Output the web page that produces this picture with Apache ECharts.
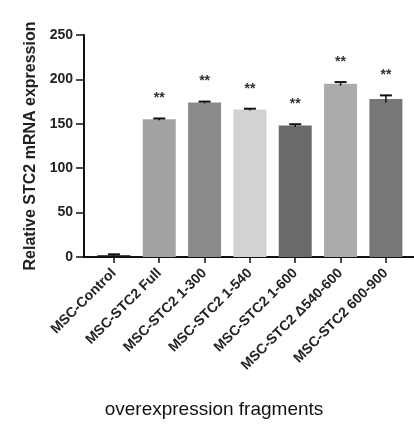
<!DOCTYPE html>
<html>
<head>
<meta charset="utf-8">
<script src="https://cdn.jsdelivr.net/npm/echarts@6/dist/echarts.min.js"></script>
<style>
  html, body { margin: 0; padding: 0; background: #fff; }
  #chart { width: 414px; height: 424px; }
</style>
</head>
<body>
<div id="chart"></div>
<script>
var categories = ['MSC-Control', 'MSC-STC2 Full', 'MSC-STC2 1-300', 'MSC-STC2 1-540', 'MSC-STC2 1-600', 'MSC-STC2 \u0394540-600', 'MSC-STC2 600-900'];
var values = [2, 155, 174, 166, 148, 195, 178];
var errors = [1, 1, 1, 1, 1.5, 2, 4];
var marks = ['', '**', '**', '**', '**', '**', '**'];
var barColors = ['#111111', '#a3a3a3', '#8b8b8b', '#d2d2d2', '#6b6b6b', '#ababab', '#777777'];
var yTicks = [0, 50, 100, 150, 200, 250];

var chart = echarts.init(document.getElementById('chart'));
var font = 'Liberation Sans, Arial, sans-serif';

var barData = values.map(function (v, i) {
  return {
    value: [i, v],
    itemStyle: { color: barColors[i] }
  };
});

var errData = values.map(function (v, i) {
  return [i, v, errors[i]];
});

option = {
  animation: false,
  grid: {
    left: 84,
    right: 0,
    top: 35,
    bottom: 167
  },
  xAxis: {
    type: 'value',
    min: -0.66,
    max: 6.62,
    name: 'overexpression fragments',
    nameLocation: 'middle',
    nameGap: 143,
    nameTextStyle: {
      fontFamily: font,
      fontSize: 19,
      color: '#111',
      padding: [0, 70, 0, 0]
    },
    splitLine: { show: false },
    axisLine: { show: true, lineStyle: { color: '#111', width: 2 } },
    axisTick: {
      show: true,
      customValues: [0, 1, 2, 3, 4, 5, 6],
      length: 6,
      lineStyle: { color: '#111', width: 1.5 }
    },
    axisLabel: {
      customValues: [0, 1, 2, 3, 4, 5, 6],
      rotate: 45,
      margin: 14,
      fontFamily: font,
      fontSize: 14,
      fontWeight: 'bold',
      color: '#222',
      formatter: function (v) {
        return categories[Math.round(v)];
      }
    }
  },
  yAxis: {
    type: 'value',
    min: 0,
    max: yTicks[yTicks.length - 1],
    interval: 50,
    name: 'Relative STC2 mRNA expression',
    nameLocation: 'middle',
    nameGap: 38,
    nameTextStyle: {
      fontFamily: font,
      fontSize: 16,
      fontWeight: 'bold',
      color: '#222'
    },
    splitLine: { show: false },
    axisLine: { show: true, onZero: false, lineStyle: { color: '#111', width: 2 } },
    axisTick: { show: true, length: 8, lineStyle: { color: '#111', width: 1.5 } },
    axisLabel: {
      fontFamily: font,
      fontSize: 14,
      fontWeight: 'bold',
      color: '#222',
      margin: 11
    }
  },
  series: [
    {
      type: 'bar',
      barWidth: 33,
      data: barData,
      z: 2
    },
    {
      // error bars + significance marks
      type: 'custom',
      z: 3,
      renderItem: function (params, api) {
        var x = api.value(0);
        var v = api.value(1);
        var e = api.value(2);
        var top = api.coord([x, v + e]);
        var bot = api.coord([x, v - e]);
        var half = 6;
        var children = [
          { type: 'line', shape: { x1: top[0], y1: top[1], x2: top[0], y2: bot[1] }, style: { stroke: '#111', lineWidth: 1.5 } },
          { type: 'line', shape: { x1: top[0] - half, y1: top[1], x2: top[0] + half, y2: top[1] }, style: { stroke: '#111', lineWidth: 2 } }
        ];
        var mark = marks[params.dataIndex];
        if (mark) {
          children.push({
            type: 'text',
            style: {
              text: mark,
              x: top[0],
              y: top[1] - 20,
              align: 'center',
              verticalAlign: 'middle',
              font: 'bold 14px ' + font,
              fill: '#333'
            }
          });
        }
        return { type: 'group', children: children };
      },
      data: errData
    }
  ]
};

if (option && typeof option === 'object') {
  chart.setOption(option, true);
}
</script>
</body>
</html>
